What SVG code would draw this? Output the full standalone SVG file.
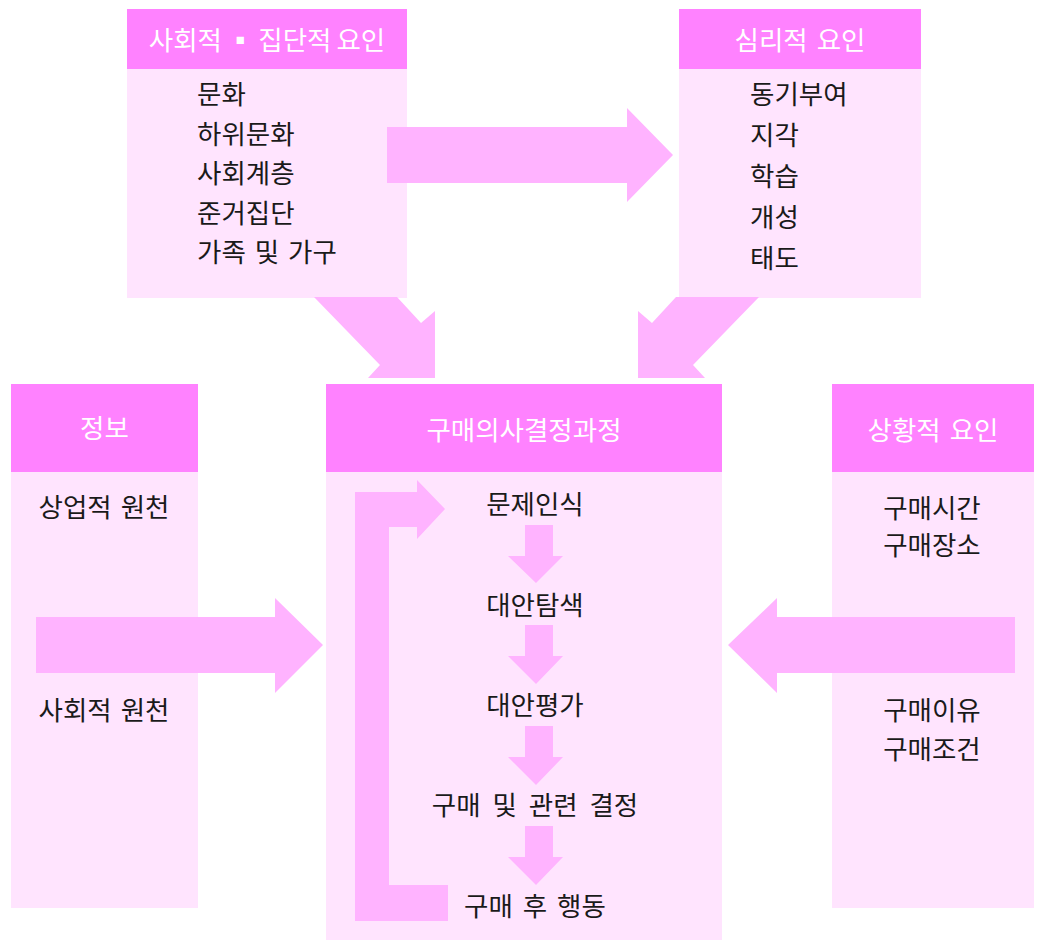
<svg xmlns="http://www.w3.org/2000/svg" width="1037" height="944" viewBox="0 0 1037 944">
<style>
.hd{fill:#FF82FF}
.bd{fill:#FFE4FE}
.ar{fill:#FFB3FF}
text{font-family:"Noto Sans CJK KR","Noto Sans",sans-serif;font-size:26.5px}
.ht{fill:#FFFFFF;text-anchor:middle}
.tx{fill:#1a1a1a}
.c{text-anchor:middle}
</style>
<rect width="1037" height="944" fill="#FFFFFF"/>
<g id="social">
<rect class="bd" x="127" y="69" width="280" height="229"/>
<rect class="hd" x="127" y="9" width="280" height="60"/>
<text class="ht" x="267" y="50" word-spacing="-1">사회적 ▪ 집단적 요인</text>
<text class="tx" x="197" y="104">문화</text>
<text class="tx" x="197" y="144">하위문화</text>
<text class="tx" x="197" y="183">사회계층</text>
<text class="tx" x="197" y="223">준거집단</text>
<text class="tx" x="197" y="262" word-spacing="3">가족 및 가구</text>
</g>
<g id="psych">
<rect class="bd" x="679" y="69" width="242" height="229"/>
<rect class="hd" x="679" y="9" width="242" height="60"/>
<text class="ht" x="800" y="50" word-spacing="3">심리적 요인</text>
<text class="tx" x="750" y="104">동기부여</text>
<text class="tx" x="750" y="145">지각</text>
<text class="tx" x="750" y="186">학습</text>
<text class="tx" x="750" y="227">개성</text>
<text class="tx" x="750" y="268">태도</text>
</g>
<g id="info">
<rect class="bd" x="11" y="472" width="187" height="436"/>
<rect class="hd" x="11" y="384" width="187" height="88"/>
<text class="ht" x="104.5" y="438">정보</text>
<text class="tx c" x="104" y="517" word-spacing="3">상업적 원천</text>
<text class="tx c" x="104" y="720" word-spacing="3">사회적 원천</text>
</g>
<g id="process">
<rect class="bd" x="326" y="472" width="396" height="468"/>
<rect class="hd" x="326" y="384" width="396" height="88"/>
<text class="ht" x="524" y="440">구매의사결정과정</text>
<text class="tx c" x="535" y="514">문제인식</text>
<text class="tx c" x="535" y="615">대안탐색</text>
<text class="tx c" x="535" y="715">대안평가</text>
<text class="tx c" x="535" y="815" word-spacing="6">구매 및 관련 결정</text>
<text class="tx c" x="535" y="916" word-spacing="4">구매 후 행동</text>
</g>
<g id="situation">
<rect class="bd" x="832" y="472" width="202" height="436"/>
<rect class="hd" x="832" y="384" width="202" height="88"/>
<text class="ht" x="933" y="440" word-spacing="3">상황적 요인</text>
<text class="tx c" x="932" y="518">구매시간</text>
<text class="tx c" x="932" y="555">구매장소</text>
<text class="tx c" x="932" y="720">구매이유</text>
<text class="tx c" x="932" y="759">구매조건</text>
</g>
<g id="connectors">
<polygon class="ar" points="387,127 627,127 627,108 673,155 627,202 627,183 387,183"/>
<polygon class="ar" points="314,297 397,297 421,323 435,311 435,378 368,378 380,365"/>
<polygon class="ar" points="759,297 676,297 652,323 638,311 638,378 705,378 693,365"/>
<polygon class="ar" points="36,617 275,617 275,598 323,645 275,693 275,673 36,673"/>
<polygon class="ar" points="1015,617 777,617 777,598 728,645 777,693 777,673 1015,673"/>
<polygon class="ar" points="355,921 448,921 448,885 389,885 389,527 417,527 417,539 445,509 417,480 417,492 355,492"/>
<polygon class="ar" points="525,525 553,525 553,556 563,556 536,583 508,556 525,556"/>
<polygon class="ar" points="525,625 553,625 553,656 563,656 536,684 508,656 525,656"/>
<polygon class="ar" points="525,726 553,726 553,757 563,757 536,785 508,757 525,757"/>
<polygon class="ar" points="525,826 553,826 553,857 563,857 536,885 508,857 525,857"/>
</g>
</svg>
